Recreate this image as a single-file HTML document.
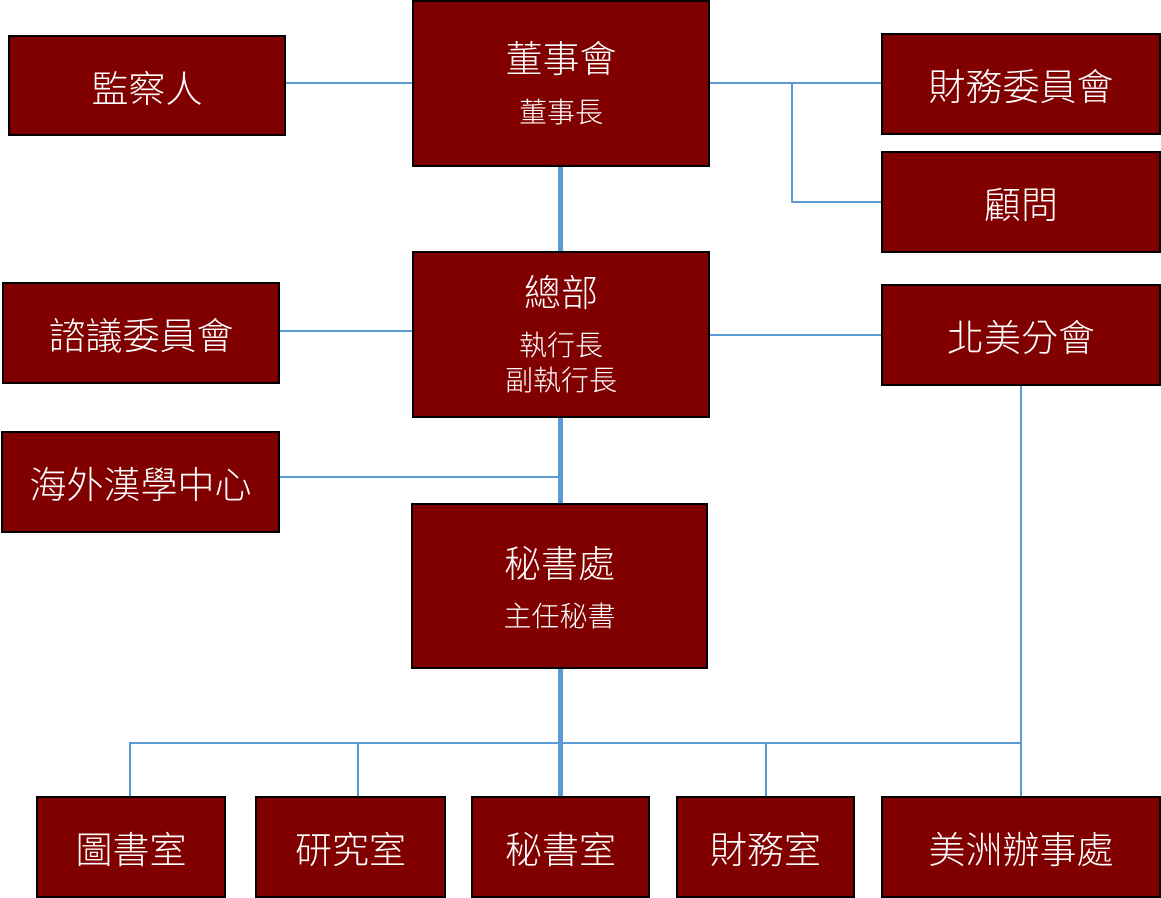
<!DOCTYPE html>
<html><head><meta charset="utf-8"><style>
body{margin:0;width:1161px;height:898px;background:#fff;position:relative;overflow:hidden;font-family:"Liberation Sans","Noto Sans CJK TC",sans-serif;font-weight:300}
.b{position:absolute;box-sizing:border-box;background:#800000;border:2px solid #000;color:#fff;display:flex;align-items:center;justify-content:center;font-size:37px;white-space:nowrap}
.t{position:absolute;left:0;right:0;text-align:center;color:#fff;white-space:nowrap}
.l{position:absolute;background:#5b9bd5}
</style></head><body>
<div class="l" style="left:285px;top:82px;width:128px;height:2px"></div>
<div class="l" style="left:709px;top:82px;width:172px;height:2px"></div>
<div class="l" style="left:791px;top:82px;width:2px;height:121px"></div>
<div class="l" style="left:791px;top:201px;width:90px;height:2px"></div>
<div class="l" style="left:558px;top:166px;width:5px;height:86px"></div>
<div class="l" style="left:279px;top:330px;width:134px;height:2px"></div>
<div class="l" style="left:709px;top:334px;width:172px;height:2px"></div>
<div class="l" style="left:558px;top:417px;width:5px;height:87px"></div>
<div class="l" style="left:279px;top:476px;width:281px;height:2px"></div>
<div class="l" style="left:558px;top:668px;width:5px;height:129px"></div>
<div class="l" style="left:129px;top:742px;width:893px;height:2px"></div>
<div class="l" style="left:129px;top:742px;width:2px;height:55px"></div>
<div class="l" style="left:357px;top:742px;width:2px;height:55px"></div>
<div class="l" style="left:765px;top:742px;width:2px;height:55px"></div>
<div class="l" style="left:1020px;top:385px;width:2px;height:412px"></div>

<div class="b" style="left:8px;top:35px;width:278px;height:101px">監察人</div>
<div class="b" style="left:412px;top:0;width:298px;height:167px;display:block">
 <div class="t" style="top:37px;font-size:37px;line-height:42px">董事會</div>
 <div class="t" style="top:95px;font-size:28px;line-height:32px">董事長</div></div>
<div class="b" style="left:881px;top:33px;width:280px;height:102px">財務委員會</div>
<div class="b" style="left:881px;top:151px;width:280px;height:102px">顧問</div>
<div class="b" style="left:2px;top:282px;width:278px;height:102px">諮議委員會</div>
<div class="b" style="left:412px;top:251px;width:298px;height:167px;display:block">
 <div class="t" style="top:20px;font-size:37px;line-height:42px">總部</div>
 <div class="t" style="top:75px;font-size:28px;line-height:35px">執行長<br>副執行長</div></div>
<div class="b" style="left:881px;top:284px;width:280px;height:102px">北美分會</div>
<div class="b" style="left:1px;top:431px;width:279px;height:102px">海外漢學中心</div>
<div class="b" style="left:411px;top:503px;width:297px;height:166px;display:block">
 <div class="t" style="top:39px;font-size:37px;line-height:42px">秘書處</div>
 <div class="t" style="top:96px;font-size:28px;line-height:32px">主任秘書</div></div>
<div class="b" style="left:36px;top:796px;width:190px;height:102px">圖書室</div>
<div class="b" style="left:255px;top:796px;width:191px;height:102px">研究室</div>
<div class="b" style="left:471px;top:796px;width:179px;height:102px">秘書室</div>
<div class="b" style="left:676px;top:796px;width:179px;height:102px">財務室</div>
<div class="b" style="left:881px;top:796px;width:280px;height:102px">美洲辦事處</div>
</body></html>
